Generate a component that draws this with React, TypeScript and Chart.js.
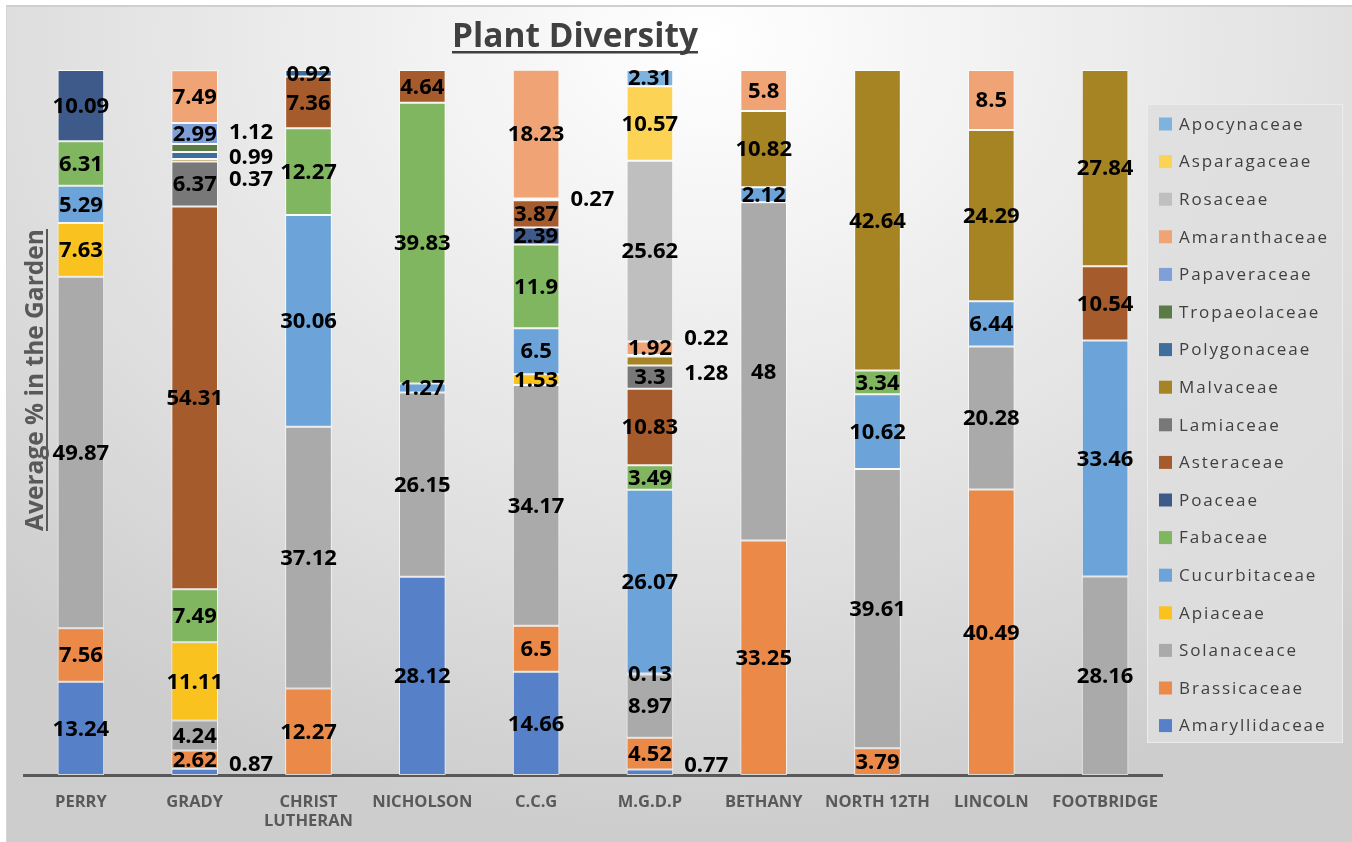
import React, { useEffect, useRef } from 'react';
import { Chart, registerables } from 'chart.js';

Chart.register(...registerables);

// ---------- data ----------
const categories: string[][] = [
  ['PERRY'], ['GRADY'], ['CHRIST', 'LUTHERAN'], ['NICHOLSON'], ['C.C.G'],
  ['M.G.D.P'], ['BETHANY'], ['NORTH 12TH'], ['LINCOLN'], ['FOOTBRIDGE'],
];

const amaryllidaceae = [13.24, 0.87, null, 28.12, 14.66, 0.77, null, null, null, null];
const brassicaceae = [7.56, 2.62, 12.27, null, 6.5, 4.52, 33.25, 3.79, 40.49, null];
const solanaceace = [49.87, 4.24, 37.12, 26.15, 34.17, 8.97, 48, 39.61, 20.28, 28.16];
const apiaceae = [7.63, 11.11, null, null, 1.53, 0.13, null, null, null, null];
const cucurbitaceae = [5.29, null, 30.06, 1.27, 6.5, 26.07, 2.12, 10.62, 6.44, 33.46];
const fabaceae = [6.31, 7.49, 12.27, 39.83, 11.9, 3.49, null, 3.34, null, null];
const poaceae = [10.09, null, null, null, 2.39, null, null, null, null, null];
const asteraceae = [null, 54.31, 7.36, 4.64, 3.87, 10.83, null, null, null, 10.54];
const lamiaceae = [null, 6.37, null, null, 0.27, 3.3, null, null, null, null];
const malvaceae = [null, 0.37, null, null, null, 1.28, 10.82, 42.64, 24.29, 27.84];
const polygonaceae = [null, 0.99, 0.92, null, null, null, null, null, null, null];
const tropaeolaceae = [null, 1.12, null, null, null, null, null, null, null, null];
const papaveraceae = [null, 2.99, null, null, null, 0.22, null, null, null, null];
const amaranthaceae = [null, 7.49, null, null, 18.23, 1.92, 5.8, null, 8.5, null];
const rosaceae = [null, null, null, null, null, 25.62, null, null, null, null];
const asparagaceae = [null, null, null, null, null, 10.57, null, null, null, null];
const apocynaceae = [null, null, null, null, null, 2.31, null, null, null, null];

const seriesNames = [
  'Amaryllidaceae', 'Brassicaceae', 'Solanaceace', 'Apiaceae', 'Cucurbitaceae', 'Fabaceae',
  'Poaceae', 'Asteraceae', 'Lamiaceae', 'Malvaceae', 'Polygonaceae', 'Tropaeolaceae',
  'Papaveraceae', 'Amaranthaceae', 'Rosaceae', 'Asparagaceae', 'Apocynaceae',
];
const seriesValues = [
  amaryllidaceae, brassicaceae, solanaceace, apiaceae, cucurbitaceae, fabaceae,
  poaceae, asteraceae, lamiaceae, malvaceae, polygonaceae, tropaeolaceae,
  papaveraceae, amaranthaceae, rosaceae, asparagaceae, apocynaceae,
];
const seriesColors = [
  '#5681c8', '#eb8a48', '#aaaaaa', '#f9c21f', '#6ca3d8', '#81b661',
  '#3e5a8a', '#a65b2c', '#787878', '#a68424', '#3e6e9e', '#5a7a46',
  '#7f9fd8', '#f0a374', '#bfbfbf', '#fdd355', '#7eb3e0',
];

// labels drawn beside the bar instead of inside (category, series, vertical shift)
const outsideLabels = [
  { category: 'GRADY', series: 'Amaryllidaceae', dy: -7 },
  { category: 'GRADY', series: 'Tropaeolaceae', dy: -15 },
  { category: 'GRADY', series: 'Polygonaceae', dy: 2 },
  { category: 'GRADY', series: 'Malvaceae', dy: 19 },
  { category: 'C.C.G', series: 'Lamiaceae', dy: 0 },
  { category: 'M.G.D.P', series: 'Papaveraceae', dy: -17 },
  { category: 'M.G.D.P', series: 'Malvaceae', dy: 13 },
  { category: 'M.G.D.P', series: 'Amaryllidaceae', dy: -7 },
];

const FONT = '"Open Sans", Lato, sans-serif';

function fitFont(ctx: CanvasRenderingContext2D, text: string, weight: string, targetWidth: number) {
  ctx.font = `${weight} 20px ${FONT}`;
  const w = ctx.measureText(text).width;
  const size = (20 * targetWidth) / w;
  ctx.font = `${weight} ${size}px ${FONT}`;
}

const valueLabelPlugin = {
  id: 'valueLabels',
  afterDatasetsDraw(chart: any) {
    const ctx = chart.ctx;
    ctx.save();
    ctx.font = `bold 22px ${FONT}`;
    ctx.fillStyle = '#000000';
    ctx.textBaseline = 'middle';
    chart.data.datasets.forEach((ds: any, di: number) => {
      const meta = chart.getDatasetMeta(di);
      meta.data.forEach((el: any, i: number) => {
        const v = ds.data[i];
        if (v == null) return;
        const { x, y, base, width } = el.getProps(['x', 'y', 'base', 'width'], true);
        const cy = (y + base) / 2;
        const catName = categories[i][0];
        const out = outsideLabels.find((o) => o.category === catName && o.series === ds.label);
        if (out) {
          ctx.textAlign = 'left';
          ctx.fillText(String(v), x + width / 2 + 11, cy + out.dy);
        } else {
          ctx.textAlign = 'center';
          ctx.fillText(String(v), x, cy + 1);
        }
      });
    });
    ctx.restore();
  },
};

const decorPlugin = {
  id: 'decor',
  afterDraw(chart: any) {
    const ctx = chart.ctx;
    ctx.save();
    // title
    const title = 'Plant Diversity';
    fitFont(ctx, title, 'bold', 246);
    ctx.fillStyle = '#404040';
    ctx.textAlign = 'center';
    ctx.textBaseline = 'alphabetic';
    const tx = 575;
    const ty = 47;
    ctx.fillText(title, tx, ty);
    ctx.fillRect(tx - 123, ty + 4, 246, 2.5);

    // y title
    ctx.save();
    ctx.translate(43, 380);
    ctx.rotate(-Math.PI / 2);
    const yt = 'Average % in the Garden';
    fitFont(ctx, yt, 'bold', 302);
    ctx.fillStyle = '#595959';
    ctx.textAlign = 'center';
    ctx.textBaseline = 'alphabetic';
    ctx.fillText(yt, 0, 0);
    ctx.fillRect(-151, 3, 302, 2);
    ctx.restore();

    // legend
    const lx = 1147, ly = 104, lw = 196, lh = 639;
    ctx.fillStyle = 'rgba(222,222,222,0.85)';
    ctx.fillRect(lx, ly, lw, lh);
    ctx.strokeStyle = '#ececec';
    ctx.lineWidth = 1;
    ctx.strokeRect(lx + 0.5, ly + 0.5, lw - 1, lh - 1);
    ctx.font = `17px ${FONT}`;
    (ctx as any).letterSpacing = '1.9px';
    ctx.textAlign = 'left';
    ctx.textBaseline = 'middle';
    const n = chart.data.datasets.length;
    for (let r = 0; r < n; r++) {
      const ds = chart.data.datasets[n - 1 - r];
      const cy = 124 + r * 37.6;
      ctx.fillStyle = ds.backgroundColor;
      ctx.fillRect(1159, cy - 6.5, 13, 13);
      ctx.fillStyle = '#404040';
      ctx.fillText(ds.label, 1179, cy + 1);
    }
    ctx.restore();
  },
};

export default function App() {
  const canvasRef = useRef<HTMLCanvasElement | null>(null);

  useEffect(() => {
    if (!canvasRef.current) return;
    const chart = new Chart(canvasRef.current, {
      type: 'bar',
      data: {
        labels: categories,
        datasets: seriesNames.map((name, i) => ({
          label: name,
          data: seriesValues[i],
          backgroundColor: seriesColors[i],
          borderColor: 'rgba(255,255,255,0.75)',
          borderWidth: 1,
          borderSkipped: false,
          barPercentage: 0.41,
          categoryPercentage: 1,
        })),
      },
      options: {
        responsive: false,
        animation: false,
        devicePixelRatio: 1,
        layout: { padding: { left: 24, right: 190, top: 70, bottom: 14 } },
        plugins: {
          legend: { display: false },
          title: { display: false },
          tooltip: { enabled: false },
        },
        scales: {
          x: {
            stacked: true,
            grid: { display: false, drawTicks: false },
            border: { display: true, color: '#595959', width: 3 },
            ticks: {
              color: '#595959',
              font: { family: FONT, size: 16.5, weight: 'bold', lineHeight: 1.2 },
              padding: 17,
              maxRotation: 0,
              autoSkip: false,
            },
            afterFit(scale: any) {
              scale.height = 53;
            },
          },
          y: {
            stacked: true,
            display: false,
            min: 0,
            max: 100,
          },
        },
      },
      plugins: [valueLabelPlugin, decorPlugin],
    } as any);
    return () => chart.destroy();
  }, []);

  return (
    <div style={{ position: 'fixed', left: 0, top: 0, width: 1352, height: 842, background: '#ffffff', overflow: 'hidden' }}>
      <div
        style={{
          position: 'absolute',
          left: 6,
          top: 5,
          width: 1346,
          height: 837,
          borderTop: '2px solid #cfcfcf',
          borderLeft: '1px solid #d6d6d6',
          boxSizing: 'border-box',
          background:
            'radial-gradient(ellipse 75% 95% at 52% 4%, #ffffff 0%, #f1f1f1 30%, #e0e0e0 65%, #cdcdcd 100%)',
        }}
      />
      <canvas
        ref={canvasRef}
        width={1352}
        height={842}
        style={{ position: 'absolute', left: 0, top: 0, width: 1352, height: 842 }}
      />
    </div>
  );
}
